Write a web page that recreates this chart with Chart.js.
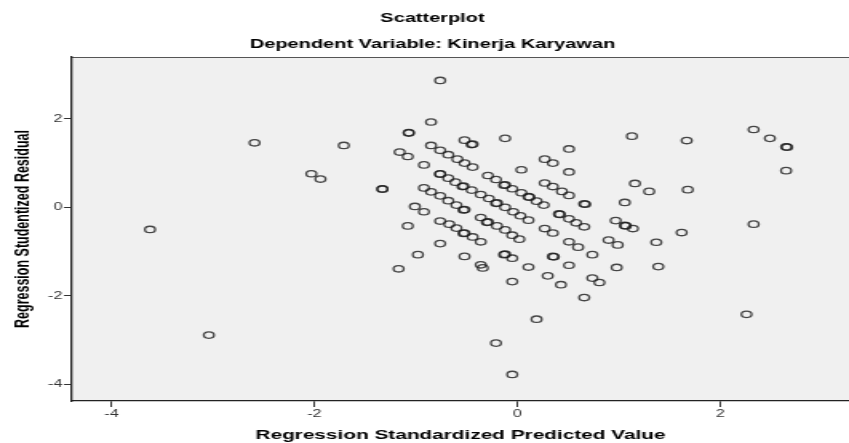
<!DOCTYPE html>
<html><head><meta charset="utf-8">
<script src="https://cdn.jsdelivr.net/npm/chart.js@4/dist/chart.umd.min.js"></script>
<style>html,body{margin:0;padding:0;background:#fff;overflow:hidden}</style>
</head><body>
<canvas id="c" width="531" height="443" style="display:block;width:849px;height:443px"></canvas>
<script>
const chartTitle = "Scatterplot";
const chartSubtitle = "Dependent Variable: Kinerja Karyawan";
const xAxisTitle = "Regression Standardized Predicted Value";
const yAxisTitle = "Regression Studentized Residual";
const xTickValues = [-4, -2, 0, 2];
const yTickValues = [-4, -2, 0, 2];

const predicted = [
-3.62,-3.04,-2.59,-2.03,-1.94,-1.71,-1.33,-1.33,-1.07,-1.07,
-1.16,-1.08,-0.92,-0.92,-0.85,-1.01,-0.92,-1.08,-0.98,-1.17,
-0.85,-0.85,-0.76,-0.52,-0.44,-0.45,-0.12,-0.76,-0.68,-0.59,
-0.52,-0.44,0.04,0.27,0.35,-0.76,-0.76,-0.68,-0.61,-0.53,
-0.54,-0.45,-0.76,-0.68,-0.60,-0.52,-0.53,-0.29,-0.21,-0.12,
-0.13,-0.05,0.04,0.11,0.12,0.19,0.26,-0.36,-0.28,-0.20,
-0.21,-0.12,-0.04,0.03,0.11,0.27,0.35,-0.76,-0.67,-0.60,
-0.36,-0.29,-0.30,-0.20,-0.12,0.41,0.42,0.27,-0.52,-0.53,
-0.44,-0.36,-0.05,0.02,-0.76,-0.52,-0.36,-0.34,-0.12,-0.13,
-0.05,0.11,0.35,0.35,0.36,0.30,0.43,-0.05,0.19,-0.21,
-0.05,1.13,1.67,0.51,0.51,1.16,1.30,1.68,0.44,0.51,
0.66,0.67,1.06,0.51,0.58,0.66,0.97,1.06,1.07,1.14,
1.62,0.51,0.60,0.90,0.99,1.37,0.74,0.51,0.98,1.39,
0.74,0.81,0.66,2.33,2.49,2.65,2.66,2.65,2.33,2.26
];
const residual = [
-0.50,-2.89,1.46,0.76,0.64,1.40,0.42,0.41,1.69,1.68,
1.25,1.15,0.96,0.44,0.35,0.02,-0.10,-0.42,-1.07,-1.39,
1.93,1.40,2.87,1.52,1.43,1.42,1.56,1.29,1.19,1.09,
1.00,0.91,0.85,1.09,1.00,0.76,0.75,0.66,0.57,0.48,
0.47,0.39,0.26,0.15,0.05,-0.05,-0.06,0.72,0.63,0.51,
0.50,0.42,0.33,0.24,0.23,0.14,0.05,0.29,0.20,0.10,
0.09,0.00,-0.10,-0.19,-0.29,0.55,0.47,-0.31,-0.38,-0.47,
-0.23,-0.33,-0.34,-0.42,-0.51,-0.15,-0.16,-0.48,-0.58,-0.59,
-0.67,-0.78,-0.63,-0.72,-0.82,-1.11,-1.30,-1.37,-1.06,-1.07,
-1.15,-1.35,-0.58,-1.11,-1.12,-1.55,-1.75,-1.68,-2.53,-3.07,
-3.78,1.61,1.51,1.32,0.80,0.54,0.36,0.40,0.36,0.27,
0.08,0.07,0.11,-0.26,-0.35,-0.44,-0.30,-0.41,-0.42,-0.48,
-0.57,-0.78,-0.90,-0.74,-0.85,-0.79,-1.07,-1.31,-1.36,-1.34,
-1.60,-1.70,-2.04,1.76,1.56,1.37,1.36,0.83,-0.38,-2.42
];

const FONT = "'Liberation Sans', Arial, Helvetica, sans-serif";
const points = predicted.map((x, i) => ({ x: x, y: residual[i] }));

const plotBg = {
  id: 'plotBg',
  beforeDraw(chart) {
    const { ctx, chartArea: a } = chart;
    ctx.save();
    ctx.fillStyle = '#ffffff';
    ctx.fillRect(0, 0, chart.width, chart.height);
    ctx.fillStyle = '#f0f0f0';
    ctx.fillRect(a.left, a.top, a.right - a.left, a.bottom - a.top);
    ctx.strokeStyle = '#555';
    ctx.lineWidth = 1;
    ctx.beginPath();
    ctx.moveTo(a.left, a.top + 0.5);
    ctx.lineTo(a.right, a.top + 0.5);
    ctx.stroke();
    ctx.restore();
  }
};

new Chart(document.getElementById('c'), {
  type: 'scatter',
  data: {
    datasets: [{
      data: points,
      pointStyle: 'circle',
      pointRadius: 3.2,
      pointBorderWidth: 1.3,
      pointBackgroundColor: 'rgba(0,0,0,0)',
      pointBorderColor: 'rgba(25,25,25,0.8)'
    }]
  },
  options: {
    responsive: false,
    animation: false,
    devicePixelRatio: 1,
    layout: { padding: { left: 10, right: 0, top: 0, bottom: 0 }, autoPadding: false },
    plugins: {
      legend: { display: false },
      tooltip: { enabled: false },
      title: {
        display: true, text: chartTitle, color: '#000',
        font: { family: FONT, size: 12.5, weight: 'bold' },
        padding: { top: 11.5, bottom: 0 }
      },
      subtitle: {
        display: true, text: chartSubtitle, color: '#000',
        font: { family: FONT, size: 12.5, weight: 'bold' },
        padding: { top: 11, bottom: 4.5 }
      }
    },
    scales: {
      x: {
        type: 'linear', min: -4.39, max: 3.27,
        afterBuildTicks: s => { s.ticks = xTickValues.map(v => ({ value: v })); },
        afterFit: s => { s.height = 42; s.paddingLeft = 0; s.paddingRight = 0; },
        grid: { display: true, drawOnChartArea: false, drawTicks: true, tickLength: 6, color: '#333', lineWidth: 1 },
        border: { display: true, color: '#222', width: 1.3 },
        ticks: { color: '#333', font: { family: FONT, size: 10 }, padding: 1, maxRotation: 0, autoSkip: false },
        title: { display: true, text: xAxisTitle, color: '#000', font: { family: FONT, size: 13, weight: 'bold' }, padding: { top: 0, bottom: 0 } }
      },
      y: {
        type: 'linear', min: -4.38, max: 3.40,
        afterBuildTicks: s => { s.ticks = yTickValues.map(v => ({ value: v })); },
        afterFit: s => { s.width = 35; s.paddingTop = 0; s.paddingBottom = 0; },
        grid: { display: true, drawOnChartArea: false, drawTicks: true, tickLength: 5, color: '#333', lineWidth: 1 },
        border: { display: true, color: '#222', width: 1.3 },
        ticks: { color: '#333', font: { family: FONT, size: 10 }, padding: 1, autoSkip: false },
        title: { display: true, text: yAxisTitle, color: '#000', font: { family: FONT, size: 12.5, weight: 'bold' }, padding: { top: -3, bottom: 0 } }
      }
    }
  },
  plugins: [plotBg]
});
</script>
</body></html>
